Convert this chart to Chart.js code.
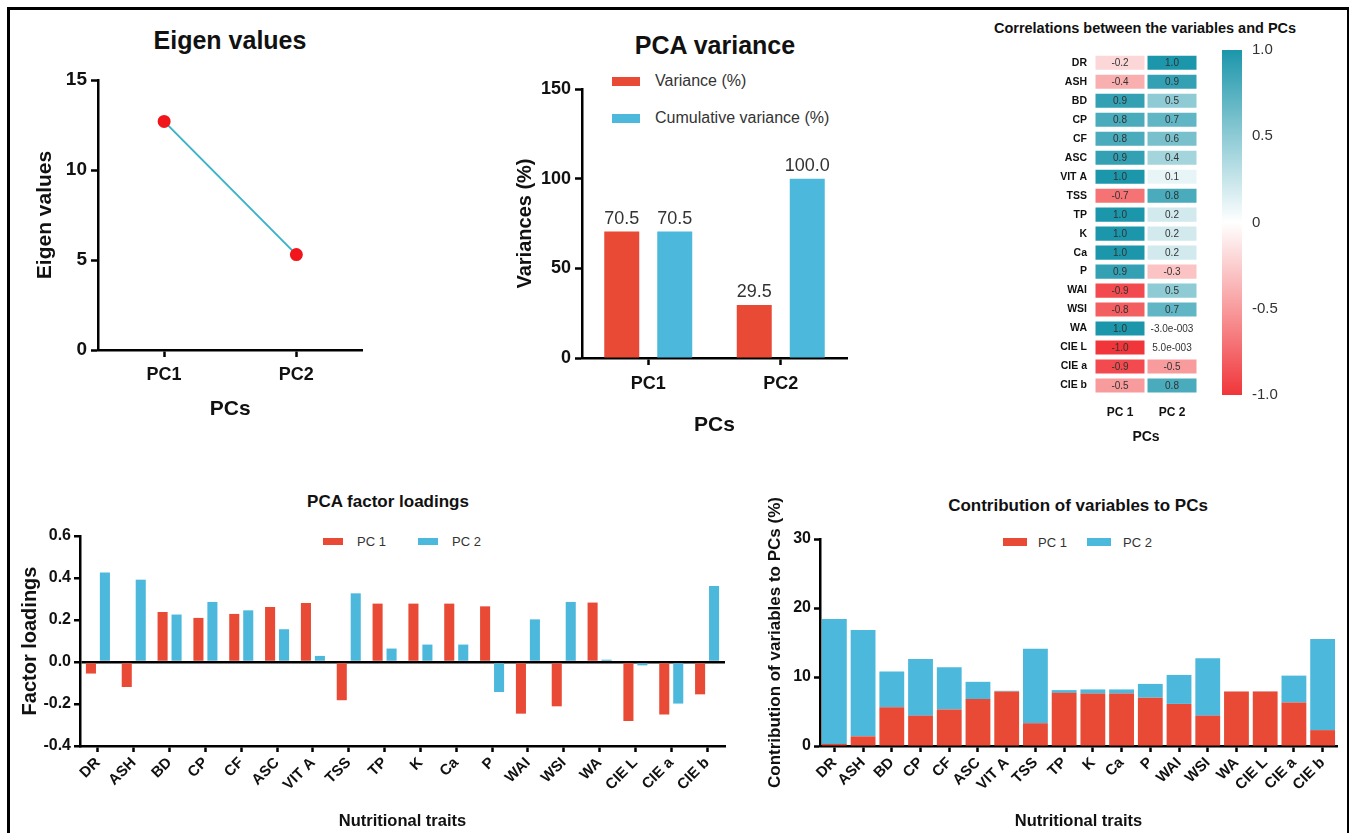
<!DOCTYPE html>
<html>
<head>
<meta charset="utf-8">
<script src="https://cdn.jsdelivr.net/npm/chart.js@4.4.0/dist/chart.umd.min.js"></script>
<style>
body { margin: 0; background: #fff; width: 1352px; height: 833px; overflow: hidden; position: relative; font-family: "Liberation Sans", Arial, sans-serif; }
canvas { position: absolute; }
#frame { position: absolute; left: 7px; top: 7px; width: 1337px; height: 900px; border-left: 3px solid #000; border-top: 3px solid #000; border-right: 2px solid #000; }
.t { position: absolute; font-weight: bold; color: #111; white-space: nowrap; transform: translate(-50%, -50%); }
.sw { position: absolute; }
.lg { position: absolute; white-space: nowrap; transform: translateY(-50%); color: #333; }
</style>
</head>
<body>
<div id="frame"></div>

<div class="t" style="left:230px;top:40px;font-size:25px">Eigen values</div>
<div class="t" style="left:715px;top:45px;font-size:25px">PCA variance</div>
<div class="t" style="left:1145px;top:28px;font-size:14.5px">Correlations between the variables and PCs</div>
<div class="t" style="left:388px;top:502px;font-size:17px">PCA factor loadings</div>
<div class="t" style="left:1078px;top:506px;font-size:17px">Contribution of variables to PCs</div>

<!-- legends -->
<div class="sw" style="left:612px;top:77px;width:28px;height:9px;background:#e84a35"></div>
<div class="lg" style="left:655px;top:81px;font-size:16px">Variance (%)</div>
<div class="sw" style="left:612px;top:114px;width:28px;height:9px;background:#4bb8dc"></div>
<div class="lg" style="left:655px;top:118px;font-size:16px">Cumulative variance (%)</div>

<div class="sw" style="left:323px;top:538px;width:20px;height:7px;background:#e84a35"></div>
<div class="lg" style="left:357px;top:541px;font-size:13px">PC 1</div>
<div class="sw" style="left:418px;top:538px;width:20px;height:7px;background:#4bb8dc"></div>
<div class="lg" style="left:452px;top:541px;font-size:13px">PC 2</div>

<div class="sw" style="left:1003px;top:538px;width:24px;height:8px;background:#e84a35"></div>
<div class="lg" style="left:1038px;top:542px;font-size:13px">PC 1</div>
<div class="sw" style="left:1087px;top:538px;width:24px;height:8px;background:#4bb8dc"></div>
<div class="lg" style="left:1123px;top:542px;font-size:13px">PC 2</div>

<canvas id="eigen" width="350" height="365" style="left:20px;top:60px"></canvas>
<canvas id="variance" width="355" height="370" style="left:500px;top:70px"></canvas>
<canvas id="corr" width="160" height="410" style="left:1040px;top:40px"></canvas>
<canvas id="cbar" width="100" height="390" style="left:1200px;top:30px"></canvas>
<canvas id="loadings" width="725" height="313" style="left:10px;top:520px"></canvas>
<canvas id="contrib" width="590" height="343" style="left:755px;top:490px"></canvas>

<script>
// ---- data ----
const pcNames = ['PC1', 'PC2'];
const eigenValues = [12.7, 5.3];

const varianceLabels = ['Variance (%)', 'Cumulative variance (%)'];
const variancePct = [70.5, 29.5];
const cumulativePct = [70.5, 100.0];

const traits = ['DR', 'ASH', 'BD', 'CP', 'CF', 'ASC', 'VIT A', 'TSS', 'TP', 'K', 'Ca', 'P', 'WAI', 'WSI', 'WA', 'CIE L', 'CIE a', 'CIE b'];

const corrPcLabels = ['PC 1', 'PC 2'];
const corrPC1 = [-0.2, -0.4, 0.9, 0.8, 0.8, 0.9, 1.0, -0.7, 1.0, 1.0, 1.0, 0.9, -0.9, -0.8, 1.0, -1.0, -0.9, -0.5];
const corrPC2 = [1.0, 0.9, 0.5, 0.7, 0.6, 0.4, 0.1, 0.8, 0.2, 0.2, 0.2, -0.3, 0.5, 0.7, -0.003, 0.005, -0.5, 0.8];
const colorbarTicks = [-1, -0.5, 0, 0.5, 1];

const loadingsPC1 = [-0.055, -0.119, 0.238, 0.210, 0.229, 0.262, 0.281, -0.182, 0.278, 0.278, 0.278, 0.265, -0.246, -0.211, 0.283, -0.281, -0.250, -0.154];
const loadingsPC2 = [0.426, 0.392, 0.226, 0.286, 0.246, 0.156, 0.029, 0.327, 0.064, 0.083, 0.083, -0.143, 0.203, 0.286, 0.011, -0.016, -0.198, 0.362];

const contribPC1 = [0.3, 1.4, 5.6, 4.4, 5.3, 6.8, 7.9, 3.3, 7.7, 7.6, 7.6, 7.0, 6.1, 4.4, 7.9, 7.9, 6.3, 2.3];
const contribPC2 = [18.1, 15.4, 5.2, 8.2, 6.1, 2.5, 0.1, 10.8, 0.4, 0.6, 0.6, 2.0, 4.2, 8.3, 0.01, 0.03, 3.9, 13.2];

// ---- styling ----
const RED = '#e84a35';
const BLUE = '#4bb8dc';
Chart.defaults.font.family = '"Liberation Sans", Arial, sans-serif';
Chart.defaults.color = '#111';

const axisBorder = { display: true, color: '#000', width: 2.5 };
function tickGrid(len) {
    return { display: true, drawOnChartArea: false, drawTicks: true, tickLength: len, tickColor: '#000', tickWidth: 2.5, offset: false };
}
const noPlugins = { legend: { display: false }, tooltip: { enabled: false } };

function corrColor(v) {
    const t = Math.min(1, Math.abs(v));
    const end = v >= 0 ? [28, 150, 170] : [240, 54, 58];
    const c = end.map(e => Math.round(255 + (e - 255) * t));
    return 'rgb(' + c.join(',') + ')';
}

function fmtCorr(v) {
    if (Math.abs(v) >= 0.05) return v.toFixed(1);
    const parts = v.toExponential(1).split('e');
    const n = parseInt(parts[1]);
    return parts[0] + 'e' + (n < 0 ? '-' : '+') + String(Math.abs(n)).padStart(3, '0');
}

// value labels above bars
const barValueLabels = {
    id: 'barValueLabels',
    afterDatasetsDraw(chart) {
        const ctx = chart.ctx;
        ctx.save();
        ctx.font = '18px "Liberation Sans", Arial';
        ctx.fillStyle = '#333';
        ctx.textAlign = 'center';
        ctx.textBaseline = 'alphabetic';
        chart.data.datasets.forEach((ds, i) => {
            chart.getDatasetMeta(i).data.forEach((bar, j) => {
                ctx.fillText(ds.data[j].toFixed(1), bar.x, bar.y - 8);
            });
        });
        ctx.restore();
    }
};

// text in heatmap cells
const cellText = {
    id: 'cellText',
    afterDatasetsDraw(chart) {
        const ctx = chart.ctx;
        ctx.save();
        ctx.font = '10px "Liberation Sans", Arial';
        ctx.fillStyle = '#333';
        ctx.textAlign = 'center';
        ctx.textBaseline = 'middle';
        chart.data.datasets.forEach((ds, i) => {
            chart.getDatasetMeta(i).data.forEach((el, j) => {
                const p = el.getProps(['x', 'y', 'base'], true);
                ctx.fillText(fmtCorr(ds.corr[j]), (p.x + p.base) / 2, p.y + 0.5);
            });
        });
        ctx.restore();
    }
};

// ---- Eigen values ----
new Chart(document.getElementById('eigen'), {
    type: 'line',
    data: {
        labels: pcNames,
        datasets: [{
            data: eigenValues,
            borderColor: '#3cb3c7',
            borderWidth: 2,
            pointBackgroundColor: '#f0161c',
            pointBorderColor: '#f0161c',
            pointRadius: 5.5,
            tension: 0
        }]
    },
    options: {
        responsive: false,
        animation: false,
        layout: { padding: { top: 20, right: 7, left: 0, bottom: 0 } },
        plugins: noPlugins,
        scales: {
            x: {
                offset: true,
                grid: tickGrid(7),
                border: axisBorder,
                ticks: { font: { size: 18, weight: 'bold' }, padding: 7 },
                title: { display: true, text: 'PCs', font: { size: 21, weight: 'bold' }, padding: { top: 0, bottom: 3 } },
                afterFit: s => { s.height = 75; }
            },
            y: {
                min: 0,
                max: 15,
                ticks: { stepSize: 5, font: { size: 19, weight: 'bold' }, padding: 4 },
                grid: tickGrid(7),
                border: axisBorder,
                title: { display: true, text: 'Eigen values', font: { size: 21, weight: 'bold' }, padding: { top: 13, bottom: 0 } },
                afterFit: s => { s.width = 78; }
            }
        }
    }
});

// ---- PCA variance ----
new Chart(document.getElementById('variance'), {
    type: 'bar',
    data: {
        labels: pcNames,
        datasets: [
            { label: varianceLabels[0], data: variancePct, backgroundColor: RED, categoryPercentage: 0.8, barPercentage: 0.66 },
            { label: varianceLabels[1], data: cumulativePct, backgroundColor: BLUE, categoryPercentage: 0.8, barPercentage: 0.66 }
        ]
    },
    options: {
        responsive: false,
        animation: false,
        layout: { padding: { top: 19, right: 8, left: 0, bottom: 0 } },
        plugins: noPlugins,
        scales: {
            x: {
                grid: tickGrid(7),
                border: axisBorder,
                ticks: { font: { size: 18, weight: 'bold' }, padding: 8 },
                title: { display: true, text: 'PCs', font: { size: 21, weight: 'bold' }, padding: { top: 0, bottom: 2 } },
                afterFit: s => { s.height = 82; }
            },
            y: {
                min: 0,
                max: 150,
                ticks: { stepSize: 50, font: { size: 18, weight: 'bold' }, padding: 4 },
                grid: tickGrid(7),
                border: axisBorder,
                title: { display: true, text: 'Variances (%)', font: { size: 20, weight: 'bold' }, padding: { top: 13, bottom: 0 } },
                afterFit: s => { s.width = 82; }
            }
        }
    },
    plugins: [barValueLabels]
});

// ---- correlation heatmap ----
const corrByPC = [corrPC1, corrPC2];
new Chart(document.getElementById('corr'), {
    type: 'bar',
    data: {
        labels: traits,
        datasets: corrPcLabels.map((pc, k) => ({
            label: pc,
            data: traits.map(() => [k, k + 1]),
            corr: corrByPC[k],
            backgroundColor: corrByPC[k].map(corrColor),
            borderColor: '#fff',
            borderWidth: 1.5,
            borderSkipped: false,
            grouped: false,
            barPercentage: 0.9,
            categoryPercentage: 1
        }))
    },
    options: {
        indexAxis: 'y',
        responsive: false,
        animation: false,
        layout: { padding: { top: 10, right: 2, left: 0, bottom: 0 } },
        plugins: noPlugins,
        scales: {
            x: {
                type: 'linear',
                min: 0,
                max: 2,
                afterBuildTicks: s => { s.ticks = corrPcLabels.map((_, k) => ({ value: k + 0.5 })); },
                ticks: { callback: (v, i) => corrPcLabels[i], font: { size: 12, weight: 'bold' }, padding: 10 },
                grid: { display: false, drawTicks: false },
                border: { display: false },
                title: { display: true, text: 'PCs', font: { size: 14, weight: 'bold' }, padding: { top: 0, bottom: 4 } },
                afterFit: s => { s.height = 55; }
            },
            y: {
                grid: { display: false, drawTicks: false },
                border: { display: false },
                ticks: { font: { size: 10.5, weight: 'bold' }, padding: 7, autoSkip: false },
                afterFit: s => { s.width = 54; }
            }
        }
    },
    plugins: [cellText]
});

// ---- colour bar ----
new Chart(document.getElementById('cbar'), {
    type: 'bar',
    data: {
        labels: [''],
        datasets: [{
            data: [[colorbarTicks[0], colorbarTicks[colorbarTicks.length - 1]]],
            barPercentage: 1,
            categoryPercentage: 1,
            backgroundColor: ctx => {
                const ch = ctx.chart;
                const ys = ch.scales.y;
                if (!ys || !ch.chartArea) return null;
                const g = ch.ctx.createLinearGradient(0, ys.getPixelForValue(1), 0, ys.getPixelForValue(-1));
                colorbarTicks.forEach(v => g.addColorStop((1 - v) / 2, corrColor(v)));
                return g;
            }
        }]
    },
    options: {
        responsive: false,
        animation: false,
        layout: { padding: { left: 22, top: 20, bottom: 25, right: 0 } },
        plugins: noPlugins,
        scales: {
            x: { display: false },
            y: {
                position: 'right',
                min: -1,
                max: 1,
                ticks: { stepSize: 0.5, callback: v => (v === 0 ? '0' : v.toFixed(1)), font: { size: 15 }, color: '#333', padding: 10 },
                grid: { display: false, drawTicks: false },
                border: { display: false },
                afterFit: s => { s.width = 58; }
            }
        }
    }
});

// ---- factor loadings ----
new Chart(document.getElementById('loadings'), {
    type: 'bar',
    data: {
        labels: traits,
        datasets: [
            { label: 'PC 1', data: loadingsPC1, backgroundColor: RED, categoryPercentage: 0.78, barPercentage: 0.72 },
            { label: 'PC 2', data: loadingsPC2, backgroundColor: BLUE, categoryPercentage: 0.78, barPercentage: 0.72 }
        ]
    },
    options: {
        responsive: false,
        animation: false,
        layout: { padding: { top: 16, right: 10, left: 0, bottom: 0 } },
        plugins: noPlugins,
        scales: {
            x: {
                grid: tickGrid(6),
                border: axisBorder,
                ticks: { font: { size: 15, weight: 'bold' }, minRotation: 45, maxRotation: 45, autoSkip: false, padding: 2 },
                title: { display: true, text: 'Nutritional traits', font: { size: 16.5, weight: 'bold' }, padding: { top: 0, bottom: 2 } },
                afterFit: s => { s.height = 87; }
            },
            y: {
                min: -0.4,
                max: 0.6,
                ticks: { stepSize: 0.2, callback: v => v.toFixed(1), font: { size: 16, weight: 'bold' }, padding: 3 },
                grid: {
                    display: true,
                    drawOnChartArea: true,
                    color: ctx => (ctx.tick && Math.abs(ctx.tick.value) < 1e-9 ? '#000' : 'rgba(0,0,0,0)'),
                    lineWidth: 2.5,
                    tickColor: '#000',
                    tickWidth: 2.5,
                    tickLength: 6
                },
                border: axisBorder,
                title: { display: true, text: 'Factor loadings', font: { size: 20, weight: 'bold' }, padding: { top: 8, bottom: 0 } },
                afterFit: s => { s.width = 70; }
            }
        }
    }
});

// ---- contribution of variables ----
new Chart(document.getElementById('contrib'), {
    type: 'bar',
    data: {
        labels: traits,
        datasets: [
            { label: 'PC 1', data: contribPC1, backgroundColor: RED, categoryPercentage: 0.9, barPercentage: 0.96 },
            { label: 'PC 2', data: contribPC2, backgroundColor: BLUE, categoryPercentage: 0.9, barPercentage: 0.96 }
        ]
    },
    options: {
        responsive: false,
        animation: false,
        layout: { padding: { top: 49, right: 8, left: 0, bottom: 0 } },
        plugins: noPlugins,
        scales: {
            x: {
                stacked: true,
                grid: tickGrid(6),
                border: axisBorder,
                ticks: { font: { size: 15, weight: 'bold' }, minRotation: 45, maxRotation: 45, autoSkip: false, padding: 2 },
                title: { display: true, text: 'Nutritional traits', font: { size: 16.5, weight: 'bold' }, padding: { top: 0, bottom: 2 } },
                afterFit: s => { s.height = 87; }
            },
            y: {
                stacked: true,
                min: 0,
                max: 30,
                ticks: { stepSize: 10, font: { size: 16, weight: 'bold' }, padding: 3 },
                grid: tickGrid(6),
                border: axisBorder,
                title: { display: true, text: 'Contribution of variables to PCs (%)', font: { size: 17, weight: 'bold' }, padding: { top: 10, bottom: 0 } },
                afterFit: s => { s.width = 65; }
            }
        }
    }
});
</script>
</body>
</html>
